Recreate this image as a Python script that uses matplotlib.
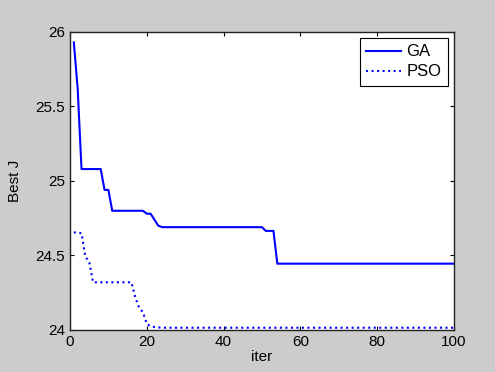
import matplotlib
matplotlib.use("Agg")
import matplotlib.pyplot as plt

plt.rcParams['font.family'] = ['Liberation Sans', 'DejaVu Sans']

ga_iter = [1, 2, 3, 8, 9, 10, 11, 19, 20, 21, 22, 23, 24, 50, 51, 53, 54, 100]
ga_best = [25.93, 25.62, 25.08, 25.08, 24.94, 24.94, 24.80, 24.80, 24.78, 24.78,
           24.74, 24.70, 24.69, 24.69, 24.665, 24.665, 24.445, 24.445]

pso_iter = [1, 3, 4, 5, 6, 16, 17, 18, 19, 20, 21, 22, 24, 100]
pso_best = [24.655, 24.65, 24.49, 24.46, 24.32, 24.32, 24.22, 24.15, 24.12,
            24.04, 24.025, 24.02, 24.015, 24.015]

xticks = [0, 20, 40, 60, 80, 100]
yticks = [24, 24.5, 25, 25.5, 26]

fig = plt.figure(figsize=(4.95, 3.72), dpi=100, facecolor='#cccccc')
ax = fig.add_axes([0.1414, 0.113, 0.7756, 0.801])
ax.plot(ga_iter, ga_best, color='#0000ff', lw=1.5, label='GA')
ax.plot(pso_iter, pso_best, color='#0000ff', lw=1.5, ls=':', label='PSO')
ax.set_xlim(0, 100)
ax.set_ylim(24, 26)
ax.set_xticks(xticks)
ax.set_yticks(yticks)
ax.set_xticklabels([str(v) for v in xticks])
ax.set_yticklabels(['24', '24.5', '25', '25.5', '26'])
ax.tick_params(direction='in', top=True, right=True, labelsize=11, length=3, width=0.8)
for s in ax.spines.values():
    s.set_linewidth(1.0)
    s.set_color('#222222')
ax.set_xlabel('iter', fontsize=11, labelpad=1)
ax.set_ylabel('Best J', fontsize=11, labelpad=10)
leg = ax.legend(loc='upper right', fontsize=12, fancybox=False, edgecolor='black',
                framealpha=1, borderaxespad=0.35, handlelength=2.1, handletextpad=0.3,
                borderpad=0.4, labelspacing=0.3)
leg.get_frame().set_linewidth(0.8)
fig.savefig('out.png', dpi=100, facecolor=fig.get_facecolor())
